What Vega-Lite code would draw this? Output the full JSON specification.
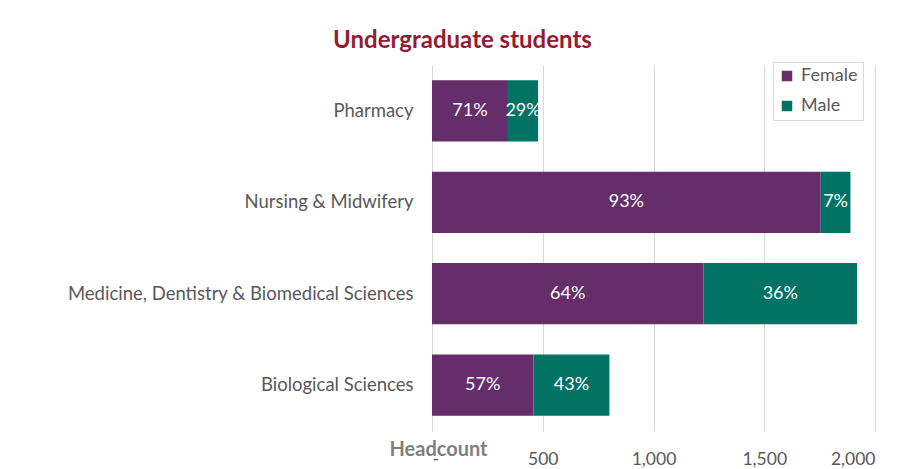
{
  "$schema": "https://vega.github.io/schema/vega-lite/v6.json",
  "width": 443,
  "height": 366,
  "autosize": {"type": "none"},
  "padding": {"left": 432, "top": 65, "right": 30, "bottom": 38},
  "background": "white",
  "title": {
    "text": "Undergraduate students",
    "font": "Lato",
    "fontSize": 24,
    "fontWeight": "bold",
    "color": "#951B32",
    "anchor": "middle",
    "dx": -191,
    "offset": 9
  },
  "data": {
    "values": [
      {"faculty": "Pharmacy", "sex": "Female", "count": 343, "pct": "71%"},
      {"faculty": "Pharmacy", "sex": "Male", "count": 136, "pct": "29%"},
      {"faculty": "Nursing & Midwifery", "sex": "Female", "count": 1755, "pct": "93%"},
      {"faculty": "Nursing & Midwifery", "sex": "Male", "count": 134, "pct": "7%"},
      {"faculty": "Medicine, Dentistry & Biomedical Sciences", "sex": "Female", "count": 1226, "pct": "64%"},
      {"faculty": "Medicine, Dentistry & Biomedical Sciences", "sex": "Male", "count": 693, "pct": "36%"},
      {"faculty": "Biological Sciences", "sex": "Female", "count": 458, "pct": "57%"},
      {"faculty": "Biological Sciences", "sex": "Male", "count": 343, "pct": "43%"}
    ]
  },
  "transform": [
    {"stack": "count", "groupby": ["faculty"], "sort": [{"field": "sex", "order": "ascending"}], "as": ["x0", "x1"]}
  ],
  "encoding": {
    "y": {
      "field": "faculty",
      "type": "nominal",
      "sort": ["Pharmacy", "Nursing & Midwifery", "Medicine, Dentistry & Biomedical Sciences", "Biological Sciences"],
      "scale": {"paddingInner": 0.33, "paddingOuter": 0.167},
      "axis": {
        "title": null,
        "ticks": false,
        "domain": false,
        "grid": false,
        "labelFont": "Lato",
        "labelFontSize": 18.5,
        "labelColor": "#595959",
        "labelPadding": 19,
        "labelLimit": 450
      }
    }
  },
  "layer": [
    {
      "mark": {"type": "bar"},
      "encoding": {
        "x": {
          "field": "x0",
          "type": "quantitative",
          "scale": {"domain": [0, 2000], "nice": false},
          "axis": {
            "values": [0, 500, 1000, 1500, 2000],
            "labelExpr": "datum.value == 0 ? '-' : format(datum.value, ',')",
            "grid": true,
            "gridColor": "#D9D9D9",
            "gridWidth": 1,
            "ticks": false,
            "domain": false,
            "labelFont": "Lato",
            "labelFontSize": 17.5,
            "labelColor": "#595959",
            "labelPadding": 19,
            "title": "Headcount",
            "titleFont": "Lato",
            "titleFontSize": 20,
            "titleFontWeight": "bold",
            "titleColor": "#7F7F7F",
            "titleX": 6,
            "titleY": 24,
            "titleAlign": "center",
            "titleBaseline": "alphabetic"
          }
        },
        "x2": {"field": "x1"},
        "color": {
          "field": "sex",
          "type": "nominal",
          "scale": {"domain": ["Female", "Male"], "range": ["#652D69", "#007364"]},
          "legend": {
            "title": null,
            "orient": "none",
            "legendX": 341,
            "legendY": -3,
            "symbolType": "square",
            "symbolSize": 110,
            "symbolStrokeWidth": 0,
            "labelFont": "Lato",
            "labelFontSize": 18,
            "labelOffset": 5,
            "labelColor": "#595959",
            "strokeColor": "#D9D9D9",
            "fillColor": "white",
            "padding": 5,
            "rowPadding": 12
          }
        }
      }
    },
    {
      "transform": [{"fold": ["x0", "x1"], "as": ["edge", "pos"]}],
      "mark": {"type": "text", "color": "white", "font": "Lato", "fontSize": 18},
      "encoding": {
        "x": {"field": "pos", "aggregate": "mean", "type": "quantitative"},
        "detail": {"field": "sex"},
        "text": {"field": "pct"}
      }
    }
  ],
  "config": {"view": {"stroke": null}}
}
